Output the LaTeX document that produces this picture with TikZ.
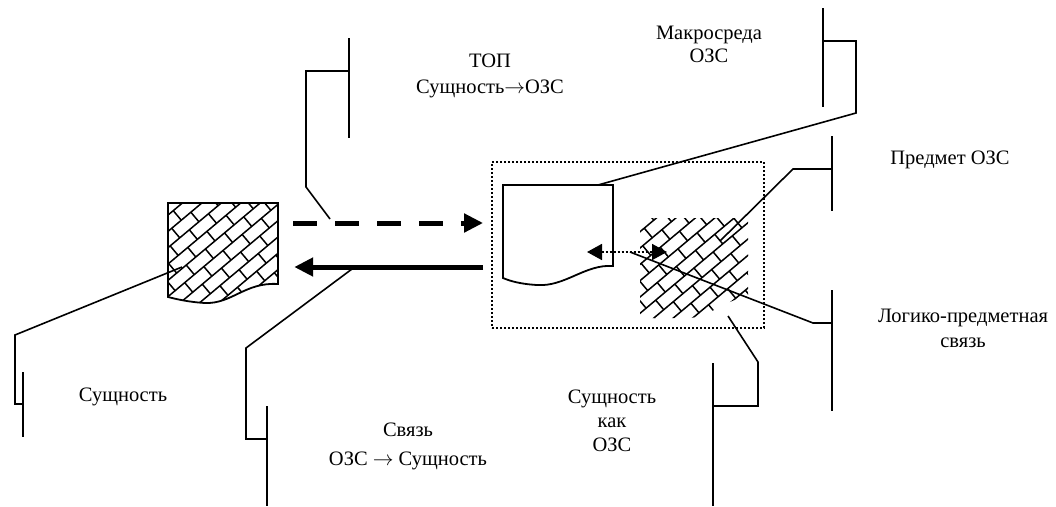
\documentclass[tikz,border=0pt]{standalone}
\usepackage{fontspec}
\setmainfont{Liberation Serif}
\usetikzlibrary{arrows.meta, positioning, calc}

% diagonal brick hatching round a centre point
\newcommand{\brickhatch}[1]{%
  \begin{scope}[shift={(#1)}, rotate=40]
    \foreach \row in {-8,...,8} {
      \draw[hatch] (-120,\row*12.5) -- (120,\row*12.5);
      \foreach \col in {-6,...,6}
        \draw[hatch] ({\col*25+mod(\row+20,2)*12.5},\row*12.5) -- ++(0,12.5);
    }
  \end{scope}}

\begin{document}
\begin{tikzpicture}[x=1pt, y=-1pt,
  lbl/.style={font=\fontsize{20.5}{25}\selectfont, align=center, inner sep=0pt},
  lead/.style={line width=1.6pt, line join=miter},
  bar/.style={line width=1.8pt},
  doc/.style={line width=1.8pt, line join=miter},
  hatch/.style={line width=1.5pt},
  frame/.style={draw, line width=1.8pt, dash pattern=on 2pt off 2pt,
    inner sep=0pt, minimum width=272pt, minimum height=166pt},
  fwd/.style={line width=5pt, dash pattern=on 24pt off 18pt,
    -{Triangle[length=19pt, width=18pt]}},
  back/.style={line width=5pt, -{Triangle[length=19pt, width=18pt]}},
  link/.style={line width=1.8pt, dash pattern=on 2pt off 2pt,
    {Triangle[length=15pt, width=16pt]}-{Triangle[length=15pt, width=16pt]}}
]
\useasboundingbox (0,0) rectangle (1056,506);

%% entity (left hatched document)
\node[inner sep=0pt, minimum width=110pt, minimum height=95pt] (ent) at (223,250.5) {};
\begin{scope}
  \clip (168,203) -- (278,203) -- (278,284) .. controls (245,282) and (232,304) .. (205,303)
    .. controls (188,302) and (176,299) .. (168,297) -- cycle;
  \brickhatch{ent.center}
\end{scope}
\draw[doc] (168,203) -- (278,203) -- (278,284) .. controls (245,282) and (232,304) .. (205,303)
  .. controls (188,302) and (176,299) .. (168,297) -- cycle;

%% OZS frame with its two parts
\node[frame] (ozs) at (628,245) {};
\node[inner sep=0pt, minimum width=110pt, minimum height=93pt] (macro) at (558,231.5) {};
\draw[doc] (503,185) -- (613,185) -- (613,266) .. controls (585,264) and (565,287) .. (537,285)
  .. controls (520,284) and (510,281) .. (503,278) -- cycle;
\node[inner sep=0pt, minimum width=108pt, minimum height=100pt] (subj) at (694,268) {};
\begin{scope}
  \clip (640,218) -- (748,218) -- (748,297) .. controls (728,298) and (712,316) .. (690,318)
    -- (640,318) -- cycle;
  \brickhatch{subj.center}
\end{scope}

%% arrows between entity and OZS
\draw[fwd] ($(ent.east)+(15,-27.5)$) -- ($(ozs.west)+(-8,-22)$);
\draw[back] ($(ozs.west)+(-8,22)$) -- ($(ent.east)+(16,16.5)$);
\coordinate (lnkL) at (587,252);
\coordinate (lnkR) at (667,252);
\draw[link] (lnkL) -- (lnkR);

%% labels
\node[lbl] (tEnt) at (123,397) {Сущность};
\node[lbl, font=\fontsize{20.5}{26}\selectfont] (tTop) at (490,76) {ТОП\\Сущность$\rightarrow$ОЗС};
\node[lbl, font=\fontsize{20.5}{23}\selectfont] (tMacro) at (709,44) {Макросреда\\ОЗС};
\node[lbl] (tSubj) at (950,160) {Предмет ОЗС};
\node[lbl] (tLog) at (963,328) {Логико-предметная\\связь};
\node[lbl, font=\fontsize{20.5}{24}\selectfont] (tAs) at (612,421) {Сущность\\как\\ОЗС};
\node[lbl, font=\fontsize{20.5}{29}\selectfont] (tLink) at (408,446) {Связь\\ОЗС $\rightarrow$ Сущность};

%% brackets and leader lines
\draw[bar] (23,372) -- (23,437);
\draw[lead] (182,267) -- (15,335) -- (15,404) -- (23,404);

\draw[bar] (267,406) -- (267,506);
\draw[lead] (352,269) -- (246,348) -- (246,439) -- (267,439);

\draw[bar] (349,38) -- (349,138);
\draw[lead] (349,71) -- (306,71) -- (306,187) -- (330,219);

\draw[bar] (823,8) -- (823,107);
\draw[lead] (823,41) -- (856,41) -- (856,113) -- (598,185);

\draw[bar] (832,136) -- (832,211);
\draw[lead] (832,169) -- (793,169) -- (720,241);

\draw[bar] (832,290) -- (832,411);
\draw[lead] (832,323) -- (813,323) -- (630,252);

\draw[bar] (713,363) -- (713,506);
\draw[lead] (713,406) -- (758,406) -- (758,362) -- (728,316);

\end{tikzpicture}
\end{document}
